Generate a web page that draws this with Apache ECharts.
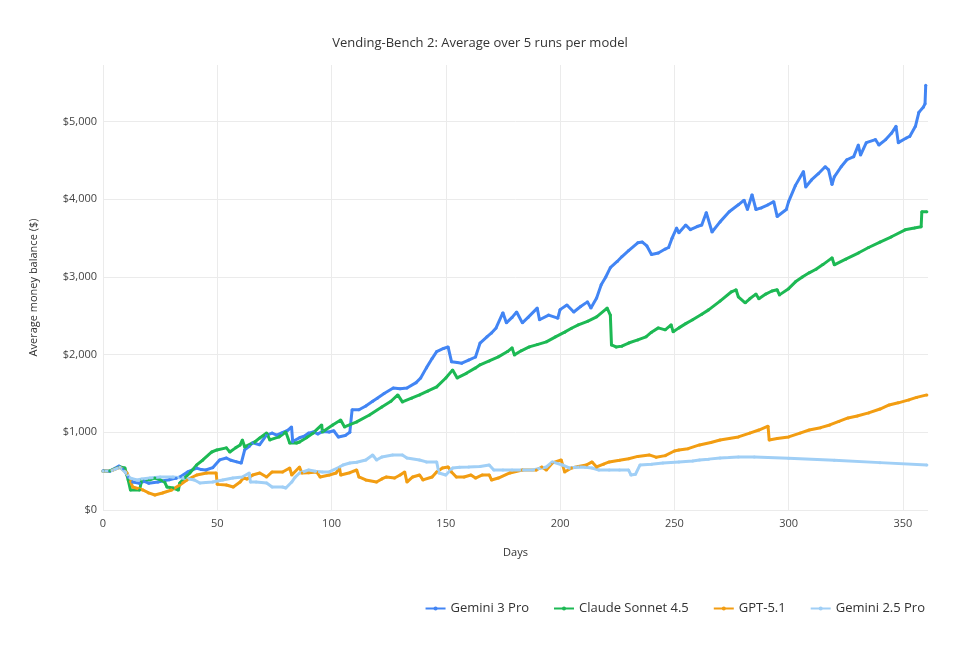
<!DOCTYPE html>
<html>
<head>
<meta charset="utf-8">
<script src="https://cdn.jsdelivr.net/npm/echarts@6/dist/echarts.min.js"></script>
<style>
html,body{margin:0;padding:0;background:#fff;}
#chart{width:960px;height:650px;}
</style>
</head>
<body>
<div id="chart"></div>
<script>
const titleText = 'Vending-Bench 2: Average over 5 runs per model';
const seriesNames = ['Gemini 3 Pro', 'Claude Sonnet 4.5', 'GPT-5.1', 'Gemini 2.5 Pro'];
const xTicks = [0, 50, 100, 150, 200, 250, 300, 350];
const yTicks = [0, 1000, 2000, 3000, 4000, 5000];

const gemini3Pro = [[0,505],[3,500],[7,565],[9,530],[11,420],[13,360],[16,345],[18,370],[20,345],[24,360],[27,380],[29,390],[32,410],[34,430],[37,490],[41,540],[43,520],[45,515],[48,545],[51,645],[54,670],[56,640],[58.5,620],[60.5,605],[62,775],[64,820],[65.5,865],[68.5,840],[71.5,965],[74,990],[76,965],[78,990],[81,1030],[82.5,1070],[83,880],[86,930],[88,950],[90,990],[92,1005],[94,980],[96,1010],[99,1005],[101,1020],[103,940],[106,960],[108,1000],[109,1290],[112,1290],[115,1340],[118,1400],[120,1440],[123,1500],[127,1570],[130,1560],[133,1570],[137,1640],[139,1700],[141.5,1830],[144,1950],[146,2040],[149,2080],[151,2100],[152.5,1910],[155,1900],[157,1890],[160,1930],[163,1970],[165,2150],[168,2230],[170,2280],[172,2345],[175,2540],[176.5,2410],[179,2480],[181,2550],[183.5,2410],[186,2480],[190,2600],[191,2450],[195,2510],[199,2470],[200,2580],[203,2640],[206,2550],[209,2620],[212,2680],[213.5,2600],[216,2730],[218,2900],[220,3000],[222,3120],[225,3200],[227,3260],[230,3340],[234,3440],[236,3450],[238,3400],[240,3290],[243,3310],[246,3360],[247.5,3380],[249,3500],[251,3630],[252,3570],[255,3670],[257,3610],[260,3650],[262,3670],[264,3830],[266.5,3580],[270,3710],[274,3840],[278,3930],[280.5,3990],[282,3870],[284,4060],[285.7,3870],[288,3890],[291,3930],[293.5,3970],[295,3780],[299,3870],[300,3970],[303,4180],[306.5,4360],[307.5,4160],[310,4250],[313,4330],[316,4420],[317.5,4380],[319,4190],[320,4290],[323,4420],[325.5,4510],[328.5,4550],[330.5,4700],[331.5,4570],[334,4730],[338,4770],[339.5,4700],[342.5,4770],[345,4850],[347,4940],[348,4730],[351.5,4790],[353,4810],[355.5,4940],[357,5120],[359,5190],[359.7,5230],[360,5470]];

const claudeSonnet45 = [[0,500],[3,505],[7.4,555],[9.6,540],[11,390],[12,258],[16,258],[17,390],[20.5,390],[22.7,412],[25,390],[27,360],[28,296],[30.6,283],[33,258],[33.6,348],[36,420],[38,477],[41,580],[43.7,644],[47.6,747],[49.8,773],[54,800],[55.5,747],[58,800],[60,838],[61,902],[62,812],[66.4,876],[68.6,928],[71.6,992],[73,902],[77,941],[80,1005],[81.7,863],[84.7,863],[86,876],[89,930],[92,992],[95.7,1095],[96,1005],[100.5,1095],[104,1160],[105.7,1070],[111,1134],[116.6,1224],[122,1327],[126,1400],[129,1482],[131,1392],[135,1440],[138.5,1482],[142,1530],[146,1585],[150,1700],[153,1804],[155,1701],[159,1760],[163,1830],[165,1869],[169,1920],[173,1972],[177,2040],[179,2088],[180,1997],[183,2050],[186.5,2100],[190,2130],[194,2165],[198,2230],[202,2290],[205,2340],[208,2384],[212,2430],[216,2487],[220.6,2600],[222,2510],[222.5,2126],[224.5,2100],[227,2110],[230,2150],[234,2190],[237.6,2230],[240,2290],[243,2345],[246,2320],[248.6,2384],[249.5,2294],[252,2345],[255,2400],[258,2450],[262,2520],[265,2577],[270,2690],[275,2810],[277,2835],[278,2745],[281,2668],[283,2720],[285.7,2780],[287,2720],[290,2780],[292.7,2820],[295,2835],[296,2770],[300,2850],[303,2938],[306,3000],[309,3054],[312,3100],[315,3160],[319,3247],[320,3157],[325,3230],[330.7,3312],[335,3380],[340,3450],[345,3518],[351,3608],[355,3630],[358,3647],[358.3,3840],[360.5,3840]];

const gpt51 = [[0,500],[4,510],[7.4,550],[10.5,477],[13,296],[17.5,258],[20,220],[22.7,193],[26,219],[30,258],[33.6,322],[36.7,387],[41,451],[45.4,477],[49.5,477],[50,330],[54,322],[57,296],[60,360],[61.5,412],[63,400],[65.5,451],[68.6,477],[71.6,425],[74,490],[78.6,490],[81.7,541],[82.6,451],[86,554],[87,477],[90,480],[93.5,490],[95,425],[99,450],[102,477],[103.5,541],[104,451],[108,480],[111,515],[112,425],[115,387],[119.7,360],[122,400],[124,425],[127.6,412],[130,450],[132,490],[133,360],[135.5,425],[138.5,451],[140,387],[144,425],[146,490],[148.5,541],[151,554],[152.5,490],[154.6,425],[158,425],[161,451],[163,412],[166,451],[169,451],[170,387],[173,412],[178,477],[183.5,515],[189.6,515],[192,554],[194,515],[196.6,606],[200.5,644],[202,490],[205,541],[208,560],[211.5,580],[214,619],[216,554],[219,590],[221.5,619],[226,640],[230,660],[234,690],[239,709],[242,680],[246,700],[250,760],[252,773],[256,790],[261,838],[266,870],[270,902],[274,920],[278,941],[283,990],[287,1030],[291,1080],[291.5,902],[295,920],[300,941],[305,990],[309,1030],[314,1060],[318,1095],[322,1140],[326,1185],[330,1210],[335,1250],[340,1300],[344,1353],[348,1380],[352.6,1418],[356,1450],[360.5,1482]];

const gemini25Pro = [[0,500],[4,510],[7.4,550],[10,480],[11.8,412],[14.8,387],[17,400],[20.5,412],[25,425],[30.6,425],[35,412],[40,387],[42.4,348],[45,355],[48,360],[52.4,387],[56.8,412],[61,425],[64,477],[64.5,360],[67,360],[71.6,348],[74,296],[78.6,296],[80,283],[82.6,360],[84,420],[86,477],[90,515],[93,500],[96,490],[99,490],[103.5,554],[105,580],[108,606],[111,615],[115,644],[118,709],[119.7,644],[122,683],[126.7,709],[131,709],[133,670],[138.5,644],[141.5,619],[146,619],[147,477],[150,451],[153,541],[156,550],[160,554],[165,560],[169,580],[171,515],[175,515],[179,515],[184,515],[188,515],[194,554],[196.6,619],[201,580],[204,541],[208,554],[211,550],[214,541],[217,515],[221.5,515],[226,515],[230,515],[231,451],[233,460],[235,580],[240,590],[245,606],[252,619],[258,630],[261,644],[265,655],[270,670],[274,675],[278,683],[285,683],[300,665],[320,640],[340,610],[360.5,580]];

const seriesData = [gemini3Pro, claudeSonnet45, gpt51, gemini25Pro];
const colors = ['#4285f4', '#1db954', '#f29d12', '#a0cff6'];

const chart = echarts.init(document.getElementById('chart'));
const fontFamily = '"Open Sans", "Noto Sans", sans-serif';
chart.setOption({
  animation: false,
  backgroundColor: '#ffffff',
  textStyle: { fontFamily: fontFamily },
  title: {
    text: titleText,
    left: 'center',
    top: 32,
    textStyle: { fontSize: 13, fontWeight: 'normal', color: '#333333', fontFamily: fontFamily }
  },
  legend: {
    data: seriesNames,
    right: 30,
    top: 597,
    itemWidth: 20,
    itemHeight: 5,
    itemGap: 24,
    textStyle: { fontSize: 13, color: '#333333', fontFamily: fontFamily }
  },
  grid: { left: 103, right: 32, top: 65, bottom: 140, containLabel: false },
  xAxis: {
    type: 'value',
    min: 0,
    max: 361,
    interval: 50,
    name: 'Days',
    nameLocation: 'middle',
    nameGap: 37,
    nameTextStyle: { fontSize: 11, color: '#333333' },
    axisLine: { show: false },
    axisTick: { show: false },
    axisLabel: { fontSize: 11, color: '#444444', margin: 8, showMaxLabel: false },
    splitLine: { show: true, showMaxLine: false, lineStyle: { color: '#ebebeb', width: 1 } }
  },
  yAxis: {
    type: 'value',
    min: 0,
    max: 5730,
    interval: 1000,
    name: 'Average money balance ($)',
    nameLocation: 'middle',
    nameGap: 64,
    nameTextStyle: { fontSize: 11, color: '#333333' },
    axisLine: { show: false },
    axisTick: { show: false },
    axisLabel: {
      fontSize: 11, color: '#444444', margin: 6, showMaxLabel: false,
      formatter: function (v) { return '$' + v.toLocaleString('en-US'); }
    },
    splitLine: { show: true, showMaxLine: false, lineStyle: { color: '#ebebeb', width: 1 } }
  },
  series: seriesNames.map(function (name, i) {
    return {
      name: name,
      type: 'line',
      data: seriesData[i],
      color: colors[i],
      symbol: 'circle',
      symbolSize: 3,
      showSymbol: true,
      lineStyle: { width: 3, color: colors[i] },
      itemStyle: { color: colors[i] }
    };
  })
});
</script>
</body>
</html>
